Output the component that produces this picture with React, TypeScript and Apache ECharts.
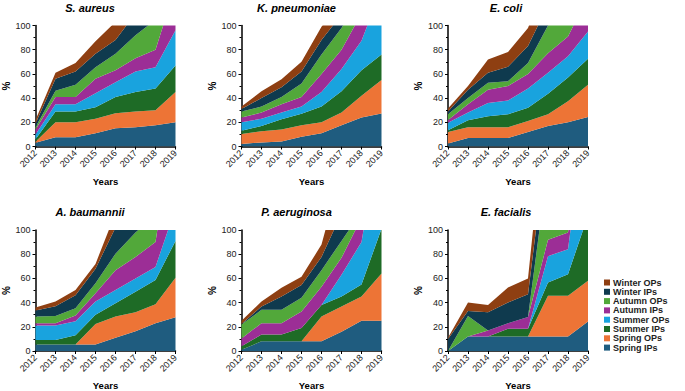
import React, { useEffect, useRef } from "react";
import * as echarts from "echarts";

const years = ["2012", "2013", "2014", "2015", "2016", "2017", "2018", "2019"];
const seriesNames = ["Spring IPs", "Spring OPs", "Summer IPs", "Summer OPs", "Autumn IPs", "Autumn OPs", "Winter IPs", "Winter OPs"];
const seriesColors = ["#1f5c7f", "#ed7436", "#1e6b26", "#19a3de", "#9c2e96", "#52a83a", "#0f3a4e", "#8e3f12"];
const panelTitles = ["S. aureus", "K. pneumoniae", "E. coli", "A. baumannii", "P. aeruginosa", "E. facialis"];
const yMin = 0;
const yMax = 100;
const yStep = 20;

// per-season values (%), order: Spring IPs ... Winter OPs
const sAureus = [
  [3, 7.7, 7.7, 11, 15, 16, 17.5, 20],
  [1, 12.3, 12.3, 12, 12.5, 13, 12.5, 25],
  [2, 9, 9, 9.5, 13.5, 16, 18, 22],
  [4, 6, 6, 11.5, 12, 17, 17.5, 29],
  [4, 6, 6, 12, 10, 11, 14.5, 36],
  [2, 5, 10, 9.5, 13.6, 19, 24.7, 28],
  [3, 10, 11, 11.1, 11.4, 18, 25.3, 20],
  [3, 5, 7, 10.4, 15, 15, 20, 20],
];
const kPneumoniae = [
  [2, 3.4, 4.2, 8, 11, 17.5, 24, 27.3],
  [8.4, 9.3, 9.8, 9.5, 9, 10.5, 18, 27.7],
  [2.6, 4.3, 8.5, 9.5, 13, 17.6, 21, 21],
  [7, 6, 5.5, 6, 12, 18.4, 24.5, 54],
  [4, 5, 7, 8, 15, 16, 22.5, 20],
  [5, 5, 6, 11, 16, 18, 15, 10],
  [2, 7, 8, 10, 12, 11, 10, 10],
  [2, 5.6, 6.5, 8, 11, 11, 5, 10],
];
const eColi = [
  [2.5, 7, 7, 7, 12, 17, 20, 24.4],
  [9.5, 9, 9, 9, 9, 9.6, 17.5, 26.6],
  [1.4, 5.6, 9, 10.6, 11, 16.9, 19.5, 21.6],
  [6.3, 6.4, 11, 11.4, 16, 17.5, 17.5, 22.4],
  [2.3, 7, 11, 12, 12, 16, 16.5, 29],
  [4.6, 5, 5.6, 4, 9, 23, 24, 16],
  [2.4, 7, 8.4, 12, 14, 17, 15, 10],
  [2.5, 3, 11, 12, 15, 23, 15, 10],
];
const aBaumannii = [
  [5.4, 5.4, 5.4, 5.4, 11, 16.3, 23, 27.8],
  [0, 0, 0, 16.9, 17.6, 15.7, 15.7, 32.7],
  [3.6, 3.6, 7.6, 7.7, 10.9, 17, 19.9, 30.5],
  [12, 12, 11.5, 11, 10.9, 11, 10.9, 27],
  [2, 2, 4.9, 6.7, 16.4, 17.7, 20.5, 82],
  [5.6, 6, 6, 8.3, 13.6, 20.3, 22, 10],
  [4.9, 8, 10.6, 12, 21.6, 32, 28, 10],
  [2.5, 4, 4.4, 4, 12, 20, 20, 10],
];
const pAeruginosa = [
  [1, 8, 8, 8, 8, 16, 25, 25],
  [0, 0, 0, 0, 20.6, 20.8, 20, 39],
  [3, 5.6, 5.6, 11, 9.4, 8.2, 10, 37],
  [0, 0, 0, 0, 0, 18, 35, 89],
  [6.4, 9.4, 9.4, 13.7, 15, 14, 20, 10],
  [11.4, 11, 11, 11.3, 13.8, 14, 5, 10],
  [0.5, 2.8, 11, 10.5, 10.9, 22.6, 15, 10],
  [2.7, 4.2, 7.3, 6.8, 10.3, 35.4, 40, 10],
];
const eFacialis = [
  [0, 12, 12, 12, 12, 12, 12, 24.3],
  [0, 0, 0, 0, 0, 33.6, 33.6, 33.7],
  [0, 0, 0, 6.3, 6.3, 11, 17.8, 54],
  [0, 0, 0, 0, 0, 21.8, 20.6, 99],
  [0, 0, 5, 4.7, 9.7, 13.6, 14, 9],
  [0, 17, 0, 0, 0, 62, 62, 20],
  [10, 4, 15, 17, 19, 26, 30, 10],
  [1, 7, 6, 12.5, 13, 40, 40, 10],
];
const panels = [sAureus, kPneumoniae, eColi, aBaumannii, pAeruginosa, eFacialis];

export default function App() {
  const ref = useRef<HTMLDivElement>(null);
  useEffect(() => {
    if (!ref.current) return;
    const chart = echarts.init(ref.current, null, { renderer: "svg" });
    const font = "'Liberation Sans', Arial, sans-serif";
    const W = 140;
    const H = 121;
    const lefts = [35.5, 241.5, 448];
    const tops = [25.5, 230];
    const grids: any[] = [];
    const xAxes: any[] = [];
    const yAxes: any[] = [];
    const series: any[] = [];
    const graphics: any[] = [];
    const titleCx = [90, 296.5, 506];
    const titleY = [7.5, 211.5];
    const yearsY = [181.7, 385.7];

    panels.forEach((panel, p) => {
      const col = p % 3;
      const row = Math.floor(p / 3);
      grids.push({ left: lefts[col], top: tops[row], width: W, height: H, containLabel: false });
      xAxes.push({
        type: "category",
        gridIndex: p,
        data: years,
        boundaryGap: false,
        axisLine: { lineStyle: { color: "#000", width: 1.5 } },
        axisTick: { show: true, length: 3, lineStyle: { color: "#000" } },
        axisLabel: { rotate: 45, fontSize: 9, color: "#222", fontFamily: font, margin: 5, interval: 0 },
        splitLine: { show: false },
      });
      yAxes.push({
        type: "value",
        gridIndex: p,
        min: yMin,
        max: yMax,
        interval: yStep,
        axisLine: { show: true, lineStyle: { color: "#000", width: 1.5 } },
        axisTick: { show: true, length: 3, lineStyle: { color: "#000" } },
        minorTick: { show: true, splitNumber: 2, length: 2, lineStyle: { color: "#000" } },
        axisLabel: { fontSize: 9, color: "#222", fontFamily: font, margin: 5 },
        splitLine: { show: false },
      });
      panel.forEach((vals, s) => {
        series.push({
          name: seriesNames[s],
          type: "line",
          xAxisIndex: p,
          yAxisIndex: p,
          stack: "panel" + p,
          data: vals,
          symbol: "none",
          showSymbol: false,
          lineStyle: { width: 0 },
          areaStyle: { color: seriesColors[s], opacity: 1 },
          itemStyle: { color: seriesColors[s] },
          clip: true,
          silent: true,
        });
      });
      graphics.push({
        type: "text",
        x: titleCx[col],
        y: titleY[row],
        style: {
          text: panelTitles[p],
          font: `italic bold 11px ${font}`,
          fill: "#000",
          align: "center",
          verticalAlign: "middle",
          textAlign: "center",
          textVerticalAlign: "middle",
        },
      });
      graphics.push({
        type: "text",
        x: lefts[col] - 29.5,
        y: tops[row] + H / 2,
        rotation: Math.PI / 2,
        style: {
          text: "%",
          font: `bold 10px ${font}`,
          fill: "#000",
          align: "center",
          verticalAlign: "middle",
          textAlign: "center",
          textVerticalAlign: "middle",
        },
      });
      graphics.push({
        type: "text",
        x: lefts[col] + W / 2,
        y: yearsY[row],
        style: {
          text: "Years",
          font: `bold 9.5px ${font}`,
          fill: "#000",
          align: "center",
          verticalAlign: "middle",
          textAlign: "center",
          textVerticalAlign: "middle",
        },
      });
    });

    chart.setOption({
      animation: false,
      backgroundColor: "#fff",
      grid: grids,
      xAxis: xAxes,
      yAxis: yAxes,
      series,
      graphic: graphics,
      legend: {
        orient: "vertical",
        left: 599,
        top: 273,
        padding: 5,
        data: seriesNames.slice().reverse(),
        icon: "rect",
        itemWidth: 6,
        itemHeight: 6,
        itemGap: 0.3,
        textStyle: { fontSize: 9, lineHeight: 9, fontWeight: "bold", color: "#222", fontFamily: font, padding: [0, 0, 0, -2] },
        selectedMode: false,
      },
    });
    return () => chart.dispose();
  }, []);
  return <div ref={ref} style={{ position: "fixed", left: 0, top: 0, width: 685, height: 391 }} />;
}
